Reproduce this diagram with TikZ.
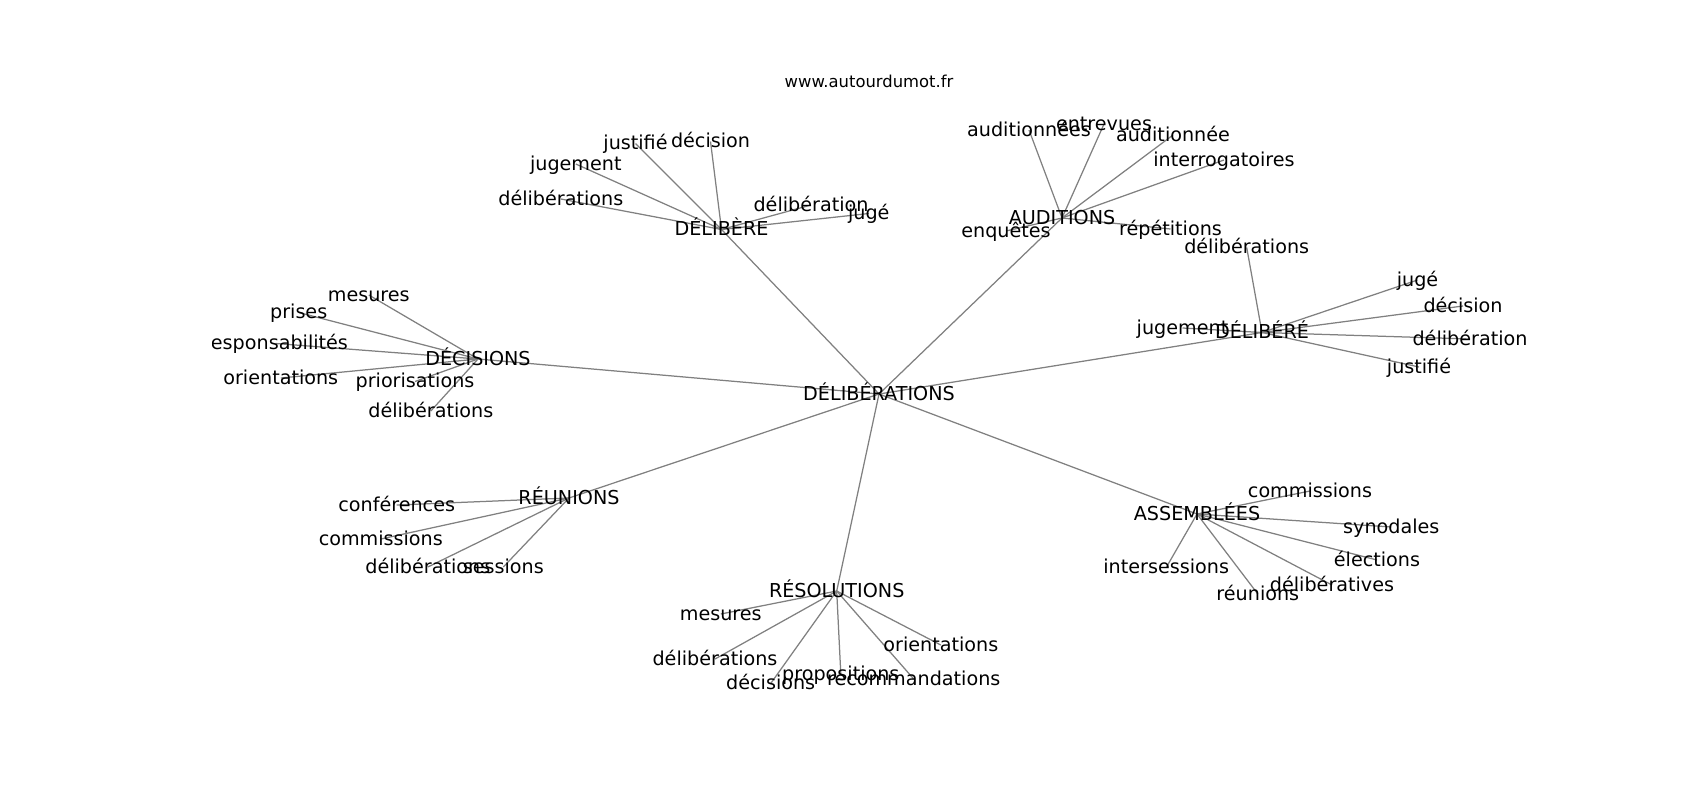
\documentclass[tikz,border=0pt]{standalone}
\usepackage{fontspec}
\setmainfont{DejaVu Sans}
\begin{document}
\begin{tikzpicture}[x=0.72pt,y=-0.72pt,
  lbl/.style={anchor=base,yshift=-4.5pt,inner sep=0pt,font=\fontsize{13.8}{16}\selectfont,text=black},
  ttl/.style={anchor=base,inner sep=0pt,font=\fontsize{11.8}{13}\selectfont,text=black},
  edge/.style={draw=black!50,line width=0.9pt}]
\useasboundingbox (0,0) rectangle (1700,800);
\node[ttl] (title) at (869,87.5) {www.autourdumot.fr};
\begin{scope}
\clip (212.5,96) rectangle (1530,712);
% hubs
\coordinate (c) at (879,394);
\coordinate (dbr) at (721.5,229.5);
\coordinate (aud) at (1062,218);
\coordinate (dbe) at (1262,332.5);
\coordinate (dec) at (478,359);
\coordinate (reu) at (569,498);
\coordinate (res) at (836.7,591);
\coordinate (ass) at (1197,514);
% leaves of DÉLIBÈRE
\coordinate (dbr1) at (635.5,143.5);
\coordinate (dbr2) at (710.5,141.5);
\coordinate (dbr3) at (575.8,164);
\coordinate (dbr4) at (560.8,199);
\coordinate (dbr5) at (811,205);
\coordinate (dbr6) at (868.8,213.5);
% leaves of AUDITIONS
\coordinate (aud1) at (1029,130);
\coordinate (aud2) at (1104,124);
\coordinate (aud3) at (1173,135);
\coordinate (aud4) at (1224,160);
\coordinate (aud5) at (1006,231);
\coordinate (aud6) at (1170.5,229);
% leaves of DÉLIBÉRÉ
\coordinate (dbe1) at (1246.7,247.5);
\coordinate (dbe2) at (1417.5,280);
\coordinate (dbe3) at (1463,306);
\coordinate (dbe4) at (1470,339);
\coordinate (dbe5) at (1419,367);
\coordinate (dbe6) at (1182.5,328);
% leaves of DÉCISIONS
\coordinate (dec1) at (368.8,295);
\coordinate (dec2) at (298.7,312.5);
\coordinate (dec3) at (275.7,343.5);
\coordinate (dec4) at (280.8,378);
\coordinate (dec5) at (415,381.5);
\coordinate (dec6) at (430.8,411);
% leaves of RÉUNIONS
\coordinate (reu1) at (396.7,505);
\coordinate (reu2) at (380.8,539);
\coordinate (reu3) at (427.8,567);
\coordinate (reu4) at (503.3,567);
% leaves of RÉSOLUTIONS
\coordinate (res1) at (720.8,614);
\coordinate (res2) at (715,659);
\coordinate (res3) at (770.7,683.5);
\coordinate (res4) at (840.8,674);
\coordinate (res5) at (913.7,679);
\coordinate (res6) at (940.8,645);
% leaves of ASSEMBLÉES
\coordinate (ass1) at (1310,491);
\coordinate (ass2) at (1391.3,527);
\coordinate (ass3) at (1377,560);
\coordinate (ass4) at (1332,585);
\coordinate (ass5) at (1257.8,594);
\coordinate (ass6) at (1166.2,567.5);
% edges
\foreach \h in {dbr,aud,dbe,dec,reu,res,ass} {\draw[edge] (c) -- (\h);}
\foreach \i in {1,...,6} {\draw[edge] (dbr) -- (dbr\i); \draw[edge] (aud) -- (aud\i);
  \draw[edge] (dbe) -- (dbe\i); \draw[edge] (dec) -- (dec\i);
  \draw[edge] (res) -- (res\i); \draw[edge] (ass) -- (ass\i);}
\foreach \i in {1,...,4} {\draw[edge] (reu) -- (reu\i);}
% labels
\node[lbl] (Lc) at (c) {DÉLIBÉRATIONS};
\node[lbl] (Ldbr) at (dbr) {DÉLIBÈRE};
\node[lbl] (Laud) at (aud) {AUDITIONS};
\node[lbl] (Ldbe) at (dbe) {DÉLIBÉRÉ};
\node[lbl] (Ldec) at (dec) {DÉCISIONS};
\node[lbl] (Lreu) at (reu) {RÉUNIONS};
\node[lbl] (Lres) at (res) {RÉSOLUTIONS};
\node[lbl] (Lass) at (ass) {ASSEMBLÉES};
\node[lbl] (Ldbr1) at (dbr1) {justifié};
\node[lbl] (Ldbr2) at (dbr2) {décision};
\node[lbl] (Ldbr3) at (dbr3) {jugement};
\node[lbl] (Ldbr4) at (dbr4) {délibérations};
\node[lbl] (Ldbr5) at (dbr5) {délibération};
\node[lbl] (Ldbr6) at (dbr6) {jugé};
\node[lbl] (Laud1) at (aud1) {auditionnées};
\node[lbl] (Laud2) at (aud2) {entrevues};
\node[lbl] (Laud3) at (aud3) {auditionnée};
\node[lbl] (Laud4) at (aud4) {interrogatoires};
\node[lbl] (Laud5) at (aud5) {enquêtes};
\node[lbl] (Laud6) at (aud6) {répétitions};
\node[lbl] (Ldbe1) at (dbe1) {délibérations};
\node[lbl] (Ldbe2) at (dbe2) {jugé};
\node[lbl] (Ldbe3) at (dbe3) {décision};
\node[lbl] (Ldbe4) at (dbe4) {délibération};
\node[lbl] (Ldbe5) at (dbe5) {justifié};
\node[lbl] (Ldbe6) at (dbe6) {jugement};
\node[lbl] (Ldec1) at (dec1) {mesures};
\node[lbl] (Ldec2) at (dec2) {prises};
\node[lbl] (Ldec3) at (dec3) {responsabilités};
\node[lbl] (Ldec4) at (dec4) {orientations};
\node[lbl] (Ldec5) at (dec5) {priorisations};
\node[lbl] (Ldec6) at (dec6) {délibérations};
\node[lbl] (Lreu1) at (reu1) {conférences};
\node[lbl] (Lreu2) at (reu2) {commissions};
\node[lbl] (Lreu3) at (reu3) {délibérations};
\node[lbl] (Lreu4) at (reu4) {sessions};
\node[lbl] (Lres1) at (res1) {mesures};
\node[lbl] (Lres2) at (res2) {délibérations};
\node[lbl] (Lres3) at (res3) {décisions};
\node[lbl] (Lres4) at (res4) {propositions};
\node[lbl] (Lres5) at (res5) {recommandations};
\node[lbl] (Lres6) at (res6) {orientations};
\node[lbl] (Lass1) at (ass1) {commissions};
\node[lbl] (Lass2) at (ass2) {synodales};
\node[lbl] (Lass3) at (ass3) {élections};
\node[lbl] (Lass4) at (ass4) {délibératives};
\node[lbl] (Lass5) at (ass5) {réunions};
\node[lbl] (Lass6) at (ass6) {intersessions};
\end{scope}
\end{tikzpicture}
\end{document}
